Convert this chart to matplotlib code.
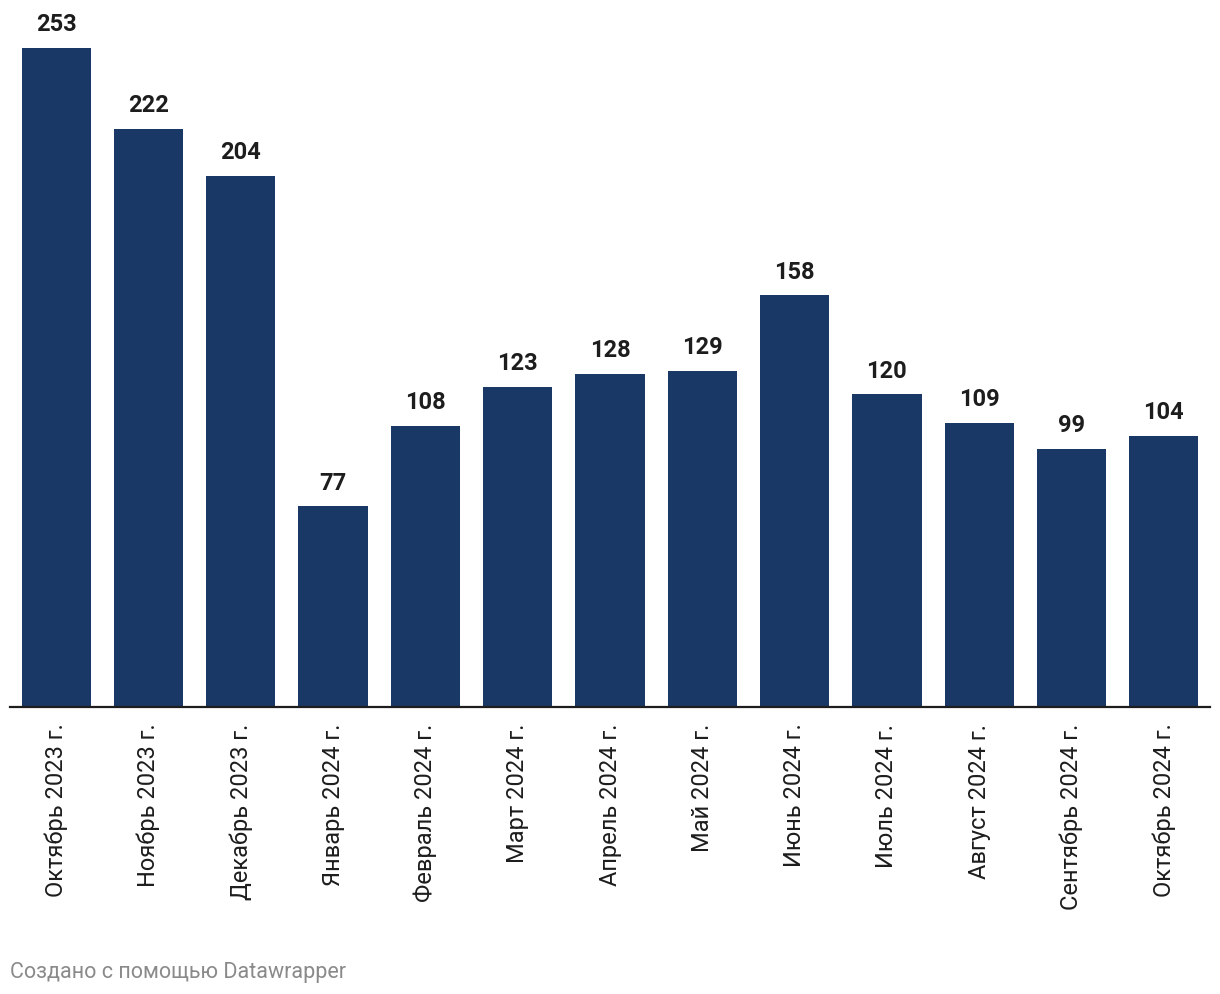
import matplotlib.pyplot as plt

months = ['Октябрь 2023 г.', 'Ноябрь 2023 г.', 'Декабрь 2023 г.', 'Январь 2024 г.',
          'Февраль 2024 г.', 'Март 2024 г.', 'Апрель 2024 г.', 'Май 2024 г.',
          'Июнь 2024 г.', 'Июль 2024 г.', 'Август 2024 г.', 'Сентябрь 2024 г.',
          'Октябрь 2024 г.']
values = [253, 222, 204, 77, 108, 123, 128, 129, 158, 120, 109, 99, 104]

plt.rcParams['font.family'] = ['Roboto', 'DejaVu Sans']

fig = plt.figure(figsize=(12.2, 9.94), dpi=100)
ax = fig.add_axes([10 / 1220, 287 / 994, 1200 / 1220, 659 / 994])

x = range(len(values))
bars = ax.bar(x, values, width=0.75, color='#1a3866', zorder=2)
ax.set_xlim(-0.5, len(values) - 0.5)
ax.set_ylim(0, max(values))

# value labels above bars
for b, v in zip(bars, values):
    ax.annotate(str(v), (b.get_x() + b.get_width() / 2, b.get_height()),
                xytext=(0, 8.5), textcoords='offset points', ha='center', va='bottom',
                fontsize=17, fontweight='bold', color='#1d1d1d', annotation_clip=False)

ax.set_xticks(list(x))
ax.set_xticklabels(months, rotation=90, fontsize=17, color='#1d1d1d', va='top')
ax.tick_params(axis='x', length=0, pad=12)
ax.set_yticks([])

for s in ['top', 'right', 'left']:
    ax.spines[s].set_visible(False)
ax.spines['bottom'].set_linewidth(1.6)
ax.spines['bottom'].set_color('#1d1d1d')
ax.spines['bottom'].set_zorder(3)

fig.text(10 / 1220, 1 - 978 / 994, 'Создано с помощью Datawrapper', fontsize=15.5,
         color='#8a8a8a', ha='left', va='baseline')

fig.savefig('out.png', dpi=100, facecolor='white')
